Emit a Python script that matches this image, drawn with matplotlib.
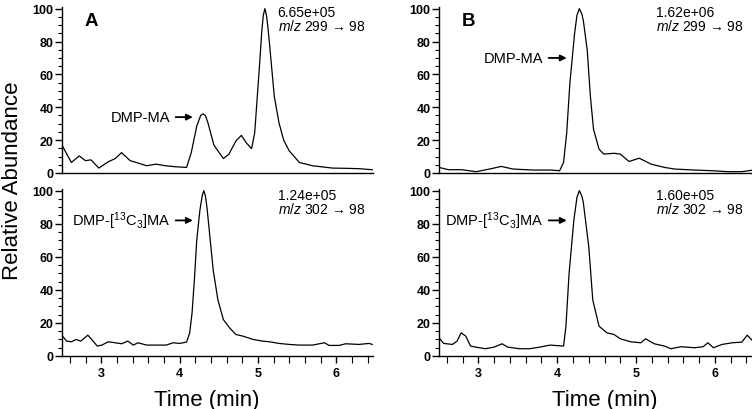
import matplotlib
matplotlib.use("Agg")
import matplotlib.pyplot as plt
from matplotlib.ticker import MultipleLocator

plt.rcParams['font.family'] = ['Liberation Sans', 'DejaVu Sans']
plt.rcParams['mathtext.fontset'] = 'custom'
plt.rcParams['mathtext.rm'] = 'Liberation Sans'
plt.rcParams['mathtext.it'] = 'Liberation Sans:italic'

# ---- data (time in min, relative abundance %) ----
a_top_t = [2.50, 2.62, 2.72, 2.80, 2.87, 2.97, 3.09, 3.18, 3.26, 3.37, 3.45, 3.58, 3.70, 3.82, 3.95,
           4.09, 4.15, 4.22, 4.27, 4.30, 4.33, 4.36, 4.44, 4.56, 4.63, 4.72, 4.79, 4.85, 4.92, 4.96,
           5.02, 5.05, 5.07, 5.09, 5.11, 5.13, 5.15, 5.21, 5.27, 5.33, 5.40, 5.53, 5.70, 5.95, 6.17,
           6.30, 6.46]
a_top_y = [16.9, 6.4, 10.4, 7.5, 8.0, 3.0, 6.8, 8.8, 12.4, 7.5, 6.4, 4.4, 5.4, 4.4, 3.8,
           3.4, 12.4, 28.5, 35.0, 36.0, 35.0, 31.0, 16.9, 8.8, 11.4, 19.5, 22.9, 18.5, 14.8, 24.5,
           64.6, 86.0, 96.0, 100.0, 96.0, 88.0, 78.0, 46.6, 30.5, 20.0, 13.5, 6.4, 4.4, 3.0, 2.8,
           2.6, 2.0]

a_bot_t = [2.50, 2.56, 2.62, 2.68, 2.74, 2.83, 2.88, 2.95, 3.01, 3.09, 3.18, 3.26, 3.34, 3.41, 3.47,
           3.58, 3.70, 3.83, 3.92, 4.00, 4.09, 4.13, 4.16, 4.19, 4.22, 4.26, 4.29, 4.31, 4.33, 4.35,
           4.38, 4.43, 4.49, 4.56, 4.64, 4.72, 4.81, 4.94, 5.06, 5.15, 5.27, 5.40, 5.53, 5.70, 5.85,
           5.91, 6.04, 6.12, 6.29, 6.42, 6.46]
a_bot_y = [12.4, 9.0, 8.6, 10.0, 9.0, 12.6, 10.0, 6.0, 6.6, 8.6, 8.0, 7.4, 9.0, 6.6, 8.0,
           6.6, 6.6, 6.6, 8.0, 7.6, 8.4, 14.0, 26.0, 46.0, 70.0, 88.0, 97.0, 100.0, 97.0, 90.0,
           76.0, 52.0, 34.0, 22.0, 17.0, 13.0, 12.0, 10.0, 9.0, 8.6, 7.6, 7.0, 6.6, 6.6, 8.0,
           6.4, 6.4, 7.4, 7.0, 7.6, 7.0]

b_top_t = [2.50, 2.62, 2.79, 2.97, 3.14, 3.29, 3.44, 3.69, 3.91, 4.03, 4.08, 4.12, 4.16, 4.22, 4.25,
           4.28, 4.31, 4.33, 4.38, 4.42, 4.46, 4.53, 4.59, 4.72, 4.80, 4.91, 5.04, 5.19, 5.36, 5.49,
           5.74, 5.96, 6.17, 6.34, 6.49]
b_top_y = [3.4, 2.0, 2.0, 0.8, 2.4, 4.0, 2.4, 1.8, 1.8, 1.4, 6.4, 24.5, 54.7, 85.0, 96.0,
           100.0, 97.0, 93.0, 74.8, 46.7, 26.6, 14.5, 11.5, 12.0, 11.5, 7.0, 9.0, 5.4, 3.4, 2.4,
           1.8, 1.4, 0.8, 0.8, 1.8]

b_bot_t = [2.50, 2.56, 2.67, 2.73, 2.78, 2.84, 2.90, 3.01, 3.09, 3.20, 3.30, 3.37, 3.52, 3.65, 3.78,
           3.91, 4.08, 4.11, 4.15, 4.21, 4.25, 4.28, 4.31, 4.33, 4.40, 4.45, 4.53, 4.63, 4.72, 4.80,
           4.93, 5.06, 5.12, 5.23, 5.36, 5.44, 5.57, 5.74, 5.85, 5.91, 5.98, 6.09, 6.22, 6.34, 6.41,
           6.49]
b_bot_y = [11.0, 7.6, 7.0, 9.0, 14.0, 12.0, 6.0, 5.0, 4.4, 5.4, 7.4, 5.4, 4.4, 4.4, 5.4,
           6.6, 6.0, 18.0, 50.0, 82.0, 96.0, 100.0, 97.0, 93.0, 66.0, 34.0, 18.0, 14.0, 13.0, 10.4,
           8.6, 8.0, 10.4, 7.4, 6.0, 4.4, 5.6, 5.0, 5.6, 8.0, 5.0, 7.0, 8.0, 8.4, 12.6,
           8.6]

panel_letters = ["A", "B"]
top_intensity = ["6.65e+05", "1.62e+06"]
bot_intensity = ["1.24e+05", "1.60e+05"]
top_transition = r"$m/z$ 299 → 98"
bot_transition = r"$m/z$ 302 → 98"
top_label = "DMP-MA"
bot_label = r"DMP-[$^{13}$C$_3$]MA"
# annotation positions: (text_x, text_y, arrow_tip_x)
top_annot = [(3.88, 34, 4.17), (3.82, 70, 4.12)]
bot_annot = [(3.88, 82, 4.17), (3.82, 82, 4.12)]
xlabel_x = [4.35, 4.6]

W, H = 752, 410
fig = plt.figure(figsize=(W / 100, H / 100), dpi=100)

def add_ax(left, top, right, bottom):
    return fig.add_axes([left / W, 1 - bottom / H, (right - left) / W, (bottom - top) / H])

axes = {
    ("A", "top"): add_ax(62, 8, 373, 174),
    ("A", "bot"): add_ax(62, 190, 373, 357),
    ("B", "top"): add_ax(439, 8, 752, 174),
    ("B", "bot"): add_ax(439, 190, 752, 357),
}

data = {
    ("A", "top"): (a_top_t, a_top_y),
    ("A", "bot"): (a_bot_t, a_bot_y),
    ("B", "top"): (b_top_t, b_top_y),
    ("B", "bot"): (b_bot_t, b_bot_y),
}

for (pnl, pos), ax in axes.items():
    t, y = data[(pnl, pos)]
    ax.plot(t, y, color='black', lw=0.9)
    ax.set_xlim(2.5, 6.47)
    ax.set_ylim(0, 101)
    for s in ['top', 'right']:
        ax.spines[s].set_visible(False)
    for s in ['left', 'bottom']:
        ax.spines[s].set_linewidth(1.0)
    ax.yaxis.set_major_locator(MultipleLocator(20))
    ax.yaxis.set_minor_locator(MultipleLocator(5))
    ax.tick_params(axis='y', which='major', length=5, width=1, pad=1, labelsize=9)
    ax.tick_params(axis='y', which='minor', length=3, width=0.8)
    for lbl in ax.get_yticklabels():
        lbl.set_fontweight('bold')
    ax.xaxis.set_major_locator(MultipleLocator(1))
    ax.xaxis.set_minor_locator(MultipleLocator(0.2))
    if pos == "top":
        ax.tick_params(axis='x', which='both', length=0, labelbottom=False)
    else:
        ax.tick_params(axis='x', which='major', length=5, width=1, pad=3, labelsize=9)
        ax.tick_params(axis='x', which='minor', length=5, width=0.8)
        for lbl in ax.get_xticklabels():
            lbl.set_fontweight('bold')
    i = panel_letters.index(pnl)
    if pos == "top":
        ax.text(0.095, 0.92, pnl, transform=ax.transAxes, fontsize=13.5, fontweight='bold',
                ha='center', va='center')
        ax.text(0.693, 0.97, top_intensity[i], transform=ax.transAxes, fontsize=10,
                ha='left', va='center')
        ax.text(0.693, 0.89, top_transition, transform=ax.transAxes, fontsize=10,
                ha='left', va='center')
        tx, ty, ax_tip = top_annot[i]
        ax.annotate(top_label, xy=(ax_tip, ty), xytext=(tx, ty), fontsize=10.5,
                    ha='right', va='center',
                    arrowprops=dict(arrowstyle='-|>', color='black', lw=1.3,
                                    mutation_scale=9, shrinkA=2, shrinkB=0))
    else:
        ax.text(0.693, 0.965, bot_intensity[i], transform=ax.transAxes, fontsize=10,
                ha='left', va='center')
        ax.text(0.693, 0.885, bot_transition, transform=ax.transAxes, fontsize=10,
                ha='left', va='center')
        tx, ty, ax_tip = bot_annot[i]
        ax.annotate(bot_label, xy=(ax_tip, ty), xytext=(tx, ty), fontsize=10.5,
                    ha='right', va='center',
                    arrowprops=dict(arrowstyle='-|>', color='black', lw=1.3,
                                    mutation_scale=9, shrinkA=2, shrinkB=0))
        ax.text(xlabel_x[i], -0.26, "Time (min)", transform=ax.get_xaxis_transform(),
                fontsize=16, ha='center', va='center')

fig.text(13 / W, 1 - 181 / H, "Relative Abundance", rotation=90, fontsize=16,
         ha='center', va='center')

fig.savefig("out.png", dpi=100)
